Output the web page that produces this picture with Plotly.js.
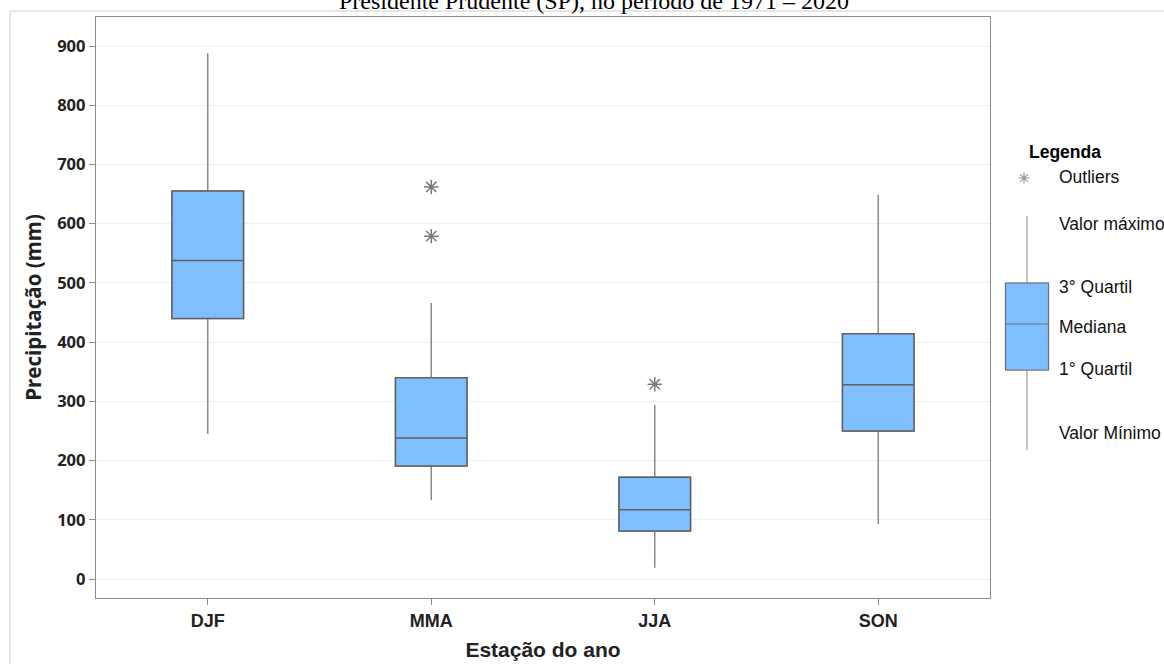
<!DOCTYPE html>
<html><head><meta charset="utf-8">
<script src="https://cdn.plot.ly/plotly-3.0.1.min.js"></script>
<style>html,body{margin:0;padding:0;background:#fff}</style>
</head><body><div id="chart" style="width:1164px;height:664px"></div>
<script>
// ---- data ----
const seasons = ['DJF', 'MMA', 'JJA', 'SON'];
const lowerWhisker = [245, 133, 19, 93];
const q1 = [440, 191, 81, 250];
const median = [538, 238, 117, 328];
const q3 = [655, 340, 172, 414];
const upperWhisker = [888, 466, 294, 649];
const outlierSeason = ['MMA', 'MMA', 'JJA'];
const outlierValue = [662, 579, 329];
const yTickValues = [0, 100, 200, 300, 400, 500, 600, 700, 800, 900];

// ---- illustrative legend (own small axis, pixel-like units) ----
const legendTitle = 'Legenda';
const legendLabels = ['Outliers', 'Valor máximo', '3° Quartil', 'Mediana', '1° Quartil', 'Valor Mínimo'];
const legendLabelY = [421, 374, 311, 271, 229, 165];
const legendBox = {x: 1027, low: 148, q1: 228, med: 274, q3: 315, high: 382, out: 420};

const boxFill = '#80bfff';
const boxLine = '#5f5f5f';
const whiskerLine = '#8a8a8a';
const markerCol = '#7a7a7a';

const traces = [
  { // whiskers
    type: 'box', x: seasons,
    q1: q1, median: median, q3: q3,
    lowerfence: lowerWhisker, upperfence: upperWhisker,
    width: 0.32, whiskerwidth: 0,
    fillcolor: boxFill, line: {color: whiskerLine, width: 1.5},
    boxpoints: false, hoverinfo: 'y', showlegend: false
  },
  { // box body on top
    type: 'box', x: seasons,
    q1: q1, median: median, q3: q3,
    lowerfence: q1, upperfence: q3,
    width: 0.32, whiskerwidth: 0,
    fillcolor: boxFill, line: {color: boxLine, width: 1.5},
    boxpoints: false, hoverinfo: 'y', showlegend: false
  },
  {
    type: 'scatter', mode: 'markers', x: outlierSeason, y: outlierValue,
    marker: {symbol: 'asterisk-open', size: 12, color: markerCol, line: {color: markerCol, width: 1.5}},
    showlegend: false, hoverinfo: 'y'
  },
  {
    type: 'box', x: [legendBox.x], xaxis: 'x2', yaxis: 'y2',
    q1: [legendBox.q1], median: [legendBox.med], q3: [legendBox.q3],
    lowerfence: [legendBox.low], upperfence: [legendBox.high],
    width: 43, whiskerwidth: 0,
    fillcolor: boxFill, line: {color: '#a0a0a0', width: 1.2},
    boxpoints: false, hoverinfo: 'skip', showlegend: false
  },
  {
    type: 'box', x: [legendBox.x], xaxis: 'x2', yaxis: 'y2',
    q1: [legendBox.q1], median: [legendBox.med], q3: [legendBox.q3],
    lowerfence: [legendBox.q1], upperfence: [legendBox.q3],
    width: 43, whiskerwidth: 0,
    fillcolor: boxFill, line: {color: '#707070', width: 1.2},
    boxpoints: false, hoverinfo: 'skip', showlegend: false
  },
  {
    type: 'scatter', mode: 'markers', x: [legendBox.x - 3], y: [legendBox.out], xaxis: 'x2', yaxis: 'y2',
    marker: {symbol: 'asterisk-open', size: 9, color: '#999', line: {color: '#999', width: 1.2}},
    showlegend: false, hoverinfo: 'skip'
  }
];

const annotations = [
  {xref: 'paper', yref: 'paper', x: 0.466, y: 1.027, yanchor: 'middle', xanchor: 'center', showarrow: false,
   text: 'Presidente Prudente (SP), no período de 1971 – 2020',
   font: {family: 'Liberation Serif', size: 24, color: '#000'}},
  {xref: 'x2', yref: 'y2', x: 1027, y: 446, xanchor: 'left', yanchor: 'middle', showarrow: false,
   text: '<b>' + legendTitle + '</b>', font: {family: 'Liberation Sans', size: 17.5, color: '#000'}}
];
legendLabels.forEach((t, i) => annotations.push({
  xref: 'x2', yref: 'y2', x: 1057, y: legendLabelY[i], xanchor: 'left', yanchor: 'middle', showarrow: false,
  text: t, font: {family: 'Liberation Sans', size: 17.5, color: '#111'}
}));

const layout = {
  width: 1164, height: 664,
  margin: {l: 96, r: 0, t: 17, b: 66},
  paper_bgcolor: '#fff', plot_bgcolor: '#fff',
  showlegend: false, boxmode: 'overlay',
  xaxis: {
    domain: [0, 894 / 1068], type: 'category', range: [-0.5, 3.5],
    showline: true, mirror: true, linecolor: '#8c8c8c', linewidth: 1.2,
    ticks: 'outside', ticklen: 6, tickcolor: '#8c8c8c', showgrid: false, zeroline: false,
    tickfont: {family: 'Liberation Sans', size: 18, color: '#222', weight: 'bold'},
    title: {text: 'Estação do ano', standoff: 12,
      font: {family: 'Liberation Sans', size: 21, color: '#222', weight: 'bold'}}
  },
  yaxis: {
    range: [-32, 949], tickvals: yTickValues,
    showline: true, mirror: true, linecolor: '#8c8c8c', linewidth: 1.2,
    ticks: 'outside', ticklen: 6, tickcolor: '#8c8c8c',
    showgrid: true, gridcolor: '#efefef', zeroline: false,
    tickfont: {family: 'Open Sans', size: 16.5, color: '#222', weight: 'bold'},
    title: {text: 'Precipitação (mm)', standoff: 10,
      font: {family: 'Open Sans', size: 20.5, color: '#222', weight: 'bold'}}
  },
  xaxis2: {domain: [899 / 1068, 1], range: [995, 1164], anchor: 'y2', visible: false, fixedrange: true},
  yaxis2: {domain: [0, 1], range: [0, 581], anchor: 'x2', visible: false, fixedrange: true},
  annotations: annotations,
  shapes: [
    {type: 'rect', xref: 'paper', yref: 'paper', x0: -86 / 1068, x1: 1.2, y0: -0.3, y1: (598 - 11) / 581,
     line: {color: '#e6e6e6', width: 2}, fillcolor: 'rgba(0,0,0,0)', layer: 'below'}
  ]
};

Plotly.newPlot('chart', traces, layout, {displayModeBar: false, staticPlot: true});
</script></body></html>
